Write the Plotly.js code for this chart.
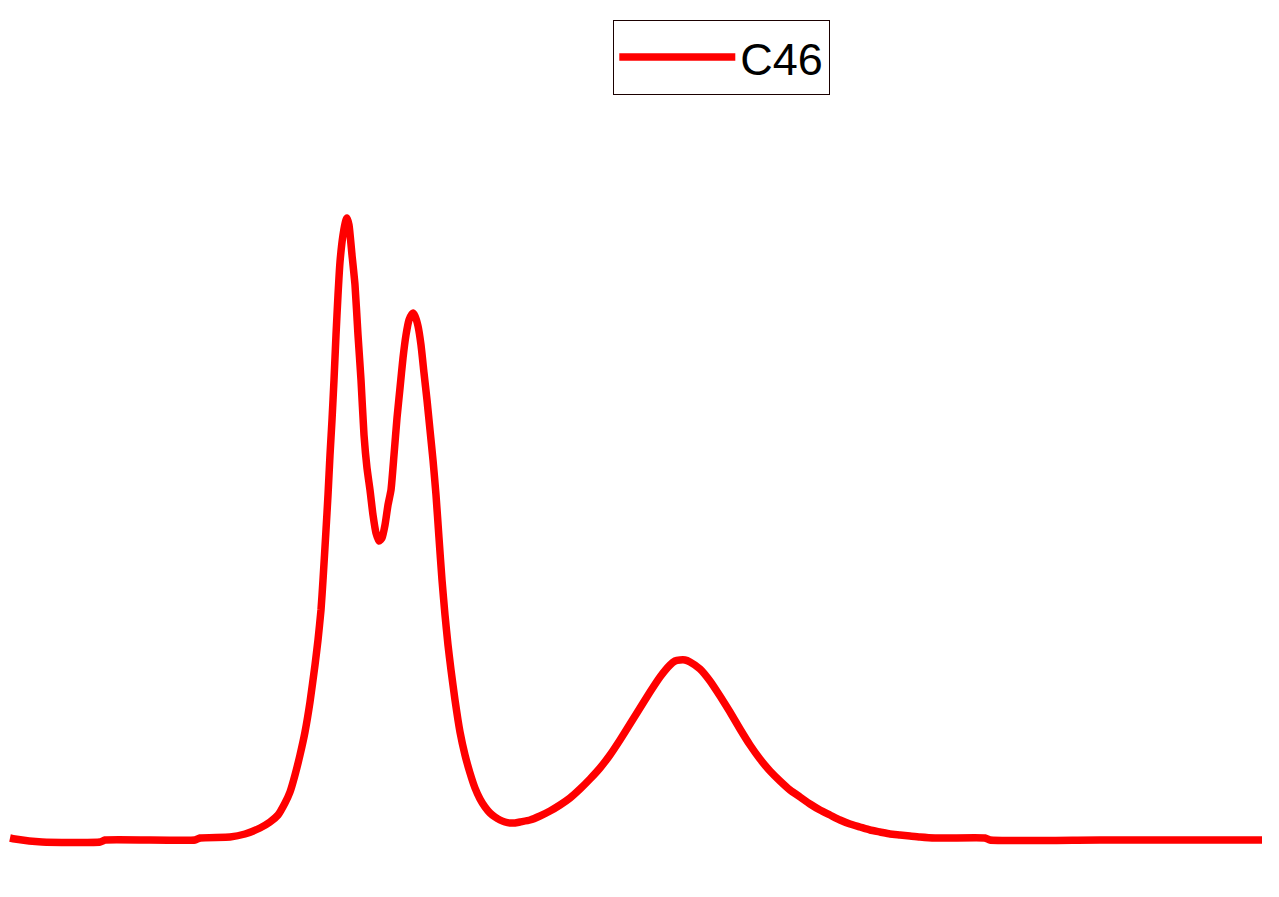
<!DOCTYPE html>
<html>
<head>
<meta charset="utf-8">
<script src="https://cdn.plot.ly/plotly-3.0.1.min.js"></script>
<style>html,body{margin:0;padding:0;background:#fff;}#chart{width:1279px;height:897px;}</style>
</head>
<body>
<div id="chart"></div>
<script>
var seriesName = "C46";
var xValues = [10,15,42,100,105,195,200,230,245,260,270,278,285,290,295,300,305,310,315,318,321,323,326,328,330,332,334,336,338,340,343,346,347,349,352,355,358,361,364,367,370,373,376,379,382,385,388,391,394,397,400,403,406,409,412,413,415,418,421,424,427,430,433,436,439,442,445,448,451,455,460,465,470,475,480,485,490,495,500,505,510,515,520,530,540,550,560,570,580,590,600,610,620,630,640,650,660,670,675,680,685,690,700,710,720,730,740,750,760,770,780,790,800,810,820,830,840,850,860,870,880,890,900,910,920,935,950,985,990,1100,1262];
var yValues = [7,6,3,3,5,5,7,8,11,17,23,30,42,53,70,90,113,143,180,205,235,265,315,350,390,425,465,510,550,583,610,625,627,620,590,560,510,465,410,377,355,330,312,304,307,320,340,355,390,427,457,487,510,525,531,532,529,519,500,472,445,415,385,350,307,265,230,200,175,145,113,90,72,57,46,38,32,28,25,23,22,22,23,25,29,34,40,47,56,66,77,90,105,121,137,153,168,180,184,185,185,183,176,164,149,133,116,100,86,74,64,55,48,41,35,30,25,21,18,15,13,11,10,9,8,7,7,7,5,5,5];

var trace = {
  x: xValues, y: yValues, type: 'scatter', mode: 'lines', name: seriesName,
  line: {color: '#ff0000', width: 7.5, shape: 'spline', smoothing: 0.5}
};
var layout = {
  width: 1279, height: 897,
  margin: {l: 0, r: 0, t: 0, b: 0},
  paper_bgcolor: '#ffffff', plot_bgcolor: '#ffffff',
  xaxis: {range: [0, 1279], visible: false, showgrid: false, zeroline: false},
  yaxis: {range: [-52, 845], visible: false, showgrid: false, zeroline: false},
  showlegend: true,
  legend: {
    x: 613/1279, y: 1 - 20/897, xanchor: 'left', yanchor: 'top',
    bgcolor: '#ffffff', bordercolor: '#1a0000', borderwidth: 1.3,
    font: {family: 'Liberation Sans, Arial, sans-serif', size: 45, color: '#000000'},
    itemwidth: 116
  }
};
Plotly.newPlot('chart', [trace], layout, {displayModeBar: false, staticPlot: true});
</script>
</body>
</html>
